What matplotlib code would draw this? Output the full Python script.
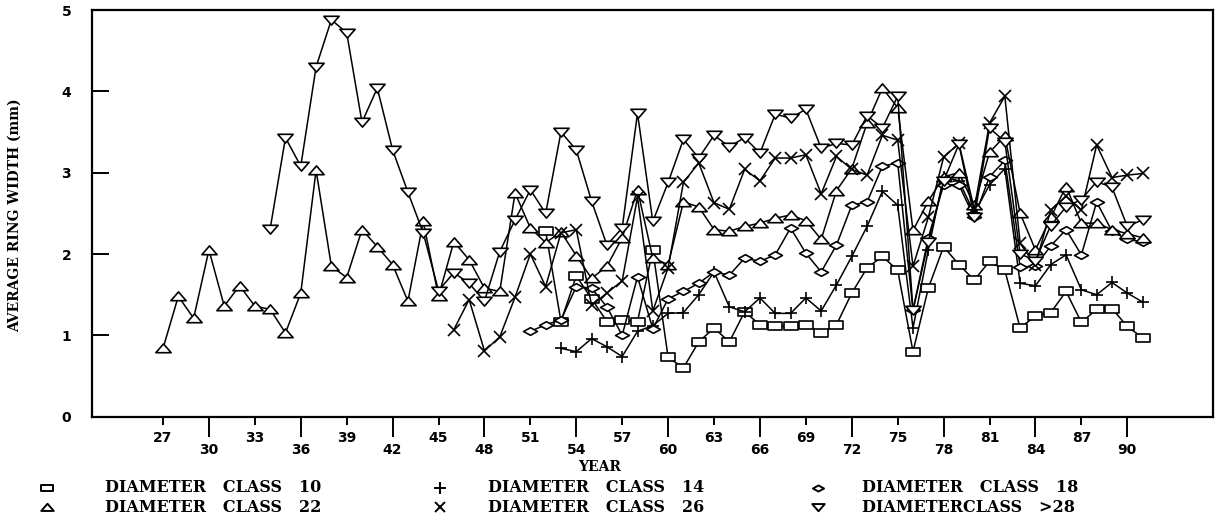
import matplotlib
matplotlib.use("Agg")
import matplotlib.pyplot as plt
from matplotlib.path import Path
from matplotlib.lines import Line2D

# ---------------- data ----------------
years_dc10 = list(range(52, 92))
dc10 = [2.28, 1.17, 1.73, 1.45, 1.17, 1.19, 1.17, 2.05, 0.73, 0.60,
        0.92, 1.09, 0.92, 1.29, 1.13, 1.11, 1.11, 1.13, 1.03, 1.13,
        1.52, 1.83, 1.97, 1.80, 0.80, 1.58, 2.09, 1.87, 1.68, 1.91,
        1.80, 1.09, 1.24, 1.28, 1.54, 1.16, 1.32, 1.33, 1.11, 0.97]

years_dc14 = list(range(53, 92))
dc14 = [0.84, 0.80, 0.96, 0.86, 0.74, 1.05, 1.12, 1.27, 1.28, 1.50,
        1.78, 1.35, 1.29, 1.46, 1.27, 1.27, 1.46, 1.30, 1.62, 1.97,
        2.34, 2.77, 2.60, 1.09, 2.05, 2.95, 2.90, 2.50, 2.85, 3.05,
        1.64, 1.61, 1.87, 1.99, 1.56, 1.50, 1.65, 1.52, 1.41]

years_dc18 = list(range(51, 92))
dc18 = [1.05, 1.13, 1.19, 1.60, 1.58, 1.35, 1.00, 1.72, 1.08, 1.45,
        1.54, 1.64, 1.78, 1.74, 1.95, 1.91, 1.99, 2.32, 2.01, 1.78,
        2.11, 2.60, 2.64, 3.08, 3.12, 1.31, 2.20, 2.85, 2.85, 2.45,
        2.95, 3.15, 1.84, 1.85, 2.10, 2.30, 1.99, 2.64, 2.28, 2.18, 2.15]

years_dc22 = list(range(27, 92))
dc22 = [0.84, 1.48, 1.21, 2.05, 1.36, 1.61, 1.36, 1.32, 1.03, 1.52,
        3.03, 1.85, 1.71, 2.30, 2.09, 1.87, 1.42, 2.40, 1.48, 2.15,
        1.93, 1.58, 1.54, 2.75, 2.32, 2.14, 2.27, 1.98, 1.70, 1.85,
        2.20, 2.79, 1.95, 1.87, 2.64, 2.58, 2.30, 2.28, 2.34, 2.38,
        2.44, 2.48, 2.41, 2.18, 2.78, 3.05, 3.61, 4.04, 3.80, 2.29,
        2.65, 2.95, 3.00, 2.60, 3.25, 3.45, 2.50, 2.05, 2.45, 2.83,
        2.38, 2.38, 2.30, 2.25, 2.20]

years_dc26 = list(range(46, 92))
dc26 = [1.07, 1.44, 0.81, 0.98, 1.47, 2.00, 1.60, 2.26, 2.30, 1.37,
        1.52, 1.67, 2.70, 1.30, 1.83, 2.88, 3.12, 2.63, 2.55, 3.04,
        2.90, 3.18, 3.18, 3.22, 2.74, 3.20, 3.04, 2.97, 3.46, 3.40,
        1.85, 2.45, 3.19, 3.36, 2.55, 3.61, 3.94, 2.13, 1.87, 2.54,
        2.71, 2.54, 3.34, 2.94, 2.97, 2.99]

years_dc28 = list(range(34, 92))
dc28 = [2.31, 3.43, 3.08, 4.30, 4.88, 4.72, 3.62, 4.04, 3.28, 2.76,
        2.26, 1.55, 1.77, 1.64, 1.42, 2.03, 2.42, 2.79, 2.50, 3.50,
        3.28, 2.65, 2.11, 2.32, 3.73, 2.40, 2.88, 3.41, 3.18, 3.46,
        3.32, 3.43, 3.24, 3.72, 3.67, 3.78, 3.30, 3.36, 3.34, 3.70,
        3.55, 3.94, 1.31, 2.15, 2.90, 3.35, 2.45, 3.55, 3.38, 2.00,
        1.92, 2.35, 2.58, 2.67, 2.89, 2.82, 2.34, 2.42]

labels = ["DIAMETER   CLASS   10", "DIAMETER   CLASS   14", "DIAMETER   CLASS   18",
          "DIAMETER   CLASS   22", "DIAMETER   CLASS   26", "DIAMETERCLASS   >28"]

xticks_upper = [27, 33, 39, 45, 51, 57, 63, 69, 75, 81, 87]
xticks_lower = [30, 36, 42, 48, 54, 60, 66, 72, 78, 84, 90]
yticks = [0, 1, 2, 3, 4, 5]

# ---------------- markers ----------------
sq = Path([(-1, -0.6), (1, -0.6), (1, 0.6), (-1, 0.6), (-1, -0.6)], closed=True)
dia = Path([(-1, 0), (0, 0.55), (1, 0), (0, -0.55), (-1, 0)], closed=True)
tup = Path([(-1, -0.55), (1, -0.55), (0, 0.6), (-1, -0.55)], closed=True)
tdn = Path([(-1, 0.55), (1, 0.55), (0, -0.6), (-1, 0.55)], closed=True)

styles = [
    dict(marker=sq, ms=10),
    dict(marker="+", ms=9),
    dict(marker=dia, ms=10),
    dict(marker=tup, ms=11),
    dict(marker="x", ms=8),
    dict(marker=tdn, ms=11),
]
series = [(years_dc10, dc10), (years_dc14, dc14), (years_dc18, dc18),
          (years_dc22, dc22), (years_dc26, dc26), (years_dc28, dc28)]

W, H = 1223, 528
fig = plt.figure(figsize=(W / 100, H / 100), dpi=100)
fig.patch.set_facecolor("white")
ax = fig.add_axes([92 / W, 1 - 416.7 / H, (1213 - 92) / W, (416.7 - 10) / H])

for (xs, ys), st in zip(series, styles):
    ax.plot(xs, ys, color="black", lw=1.1, marker=st["marker"], ms=st["ms"],
            mfc="white", mec="black", mew=1.2)

ax.set_xlim(22.36, 95.6)
ax.set_ylim(0, 5)
for s in ax.spines.values():
    s.set_linewidth(1.6)

tickfont = dict(family="DejaVu Sans", weight="bold", size=10)
ax.set_yticks(yticks)
ax.set_yticklabels([str(v) for v in yticks], fontdict=tickfont)
ax.tick_params(axis="y", direction="in", length=12, width=1.4, pad=15)

ax.set_xticks(xticks_upper)
ax.set_xticklabels([str(v) for v in xticks_upper], fontdict=tickfont)
ax.set_xticks(xticks_lower, minor=True)
ax.set_xticklabels([str(v) for v in xticks_lower], minor=True, fontdict=tickfont)
ax.tick_params(axis="x", which="major", direction="out", length=6, width=1.4, pad=4)
ax.tick_params(axis="x", which="minor", direction="out", length=14.5, width=1.4, pad=4.5)

serif = dict(family="DejaVu Serif", weight="bold")
fig.text(600 / W, 1 - 467 / H, "YEAR", ha="center", va="center", size=10, **serif)
fig.text(15 / W, 1 - 215 / H, "AVERAGE RING WIDTH (mm)", ha="center", va="center",
         rotation=90, size=10, **serif)

# legend (3 columns x 2 rows)
col_marker_x = [47, 440, 818]
col_text_x = [105, 488, 862]
row_y = [488, 507]
leg_ms = [8, 8, 8, 9, 7, 9]
order = [(0, 0), (0, 1), (0, 2), (1, 0), (1, 1), (1, 2)]
for i, (r, c) in enumerate(order):
    st = styles[i]
    fig.add_artist(Line2D([col_marker_x[c] / W], [1 - row_y[r] / H],
                          transform=fig.transFigure, ls="none", marker=st["marker"],
                          ms=leg_ms[i], mfc="white", mec="black", mew=1.4))
    fig.text(col_text_x[c] / W, 1 - row_y[r] / H, labels[i], ha="left",
             va="center", size=11.5, **serif)

fig.savefig("out.png", dpi=100, facecolor="white")
